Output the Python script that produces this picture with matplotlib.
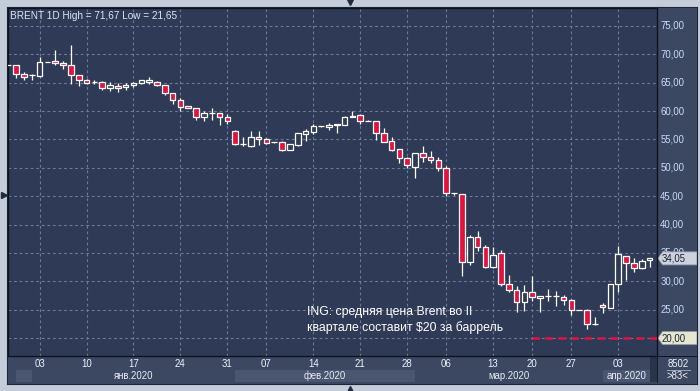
import matplotlib
matplotlib.use("Agg")
import matplotlib.pyplot as plt
from matplotlib.patches import Rectangle, Polygon
from matplotlib.lines import Line2D

plt.rcParams['font.family'] = ['Liberation Sans', 'DejaVu Sans']

# ---------------- data ----------------
opens = [68.1, 68.1, 66.5, 66.4, 66.1, 68.6, 68.8, 68.5, 68.1, 66.3,
         65.4, 65.1, 65.1, 64.1, 64.5, 64.2, 64.6, 64.9, 65.2, 65.1,
         64.6, 63.2, 61.9, 60.9, 60.5, 58.9, 59.6, 59.6, 58.9, 56.5,
         54.2, 53.9, 55.4, 55.05, 54.5, 54.5, 53.2, 54.05, 55.9, 56.4,
         57.3, 57.2, 57.5, 57.6, 59.0, 59.3, 58.3, 58.2, 56.1, 54.7,
         53.3, 51.7, 50.2, 52.6, 51.9, 51.4, 50.0, 45.5, 45.4, 33.4,
         37.8, 36.0, 32.5, 35.0, 29.5, 28.5, 26.4, 28.1, 27.05, 27.5,
         27.5, 27.2, 26.8, 24.95, 24.95, 22.5, 25.8, 25.35, 29.6, 34.5,
         33.2, 32.3, 33.7]
highs = [68.1, 68.1, 66.9, 66.5, 69.6, 68.6, 70.8, 68.9, 71.67, 66.3,
         65.6, 65.4, 65.3, 65.1, 64.9, 65.0, 65.2, 65.5, 66.0, 65.3,
         64.6, 63.2, 62.3, 60.9, 60.5, 60.0, 60.5, 59.6, 59.5, 56.7,
         55.5, 56.5, 56.5, 55.2, 54.6, 54.8, 54.2, 56.2, 56.9, 57.7,
         57.4, 57.9, 57.7, 59.2, 60.0, 59.5, 58.4, 58.2, 57.0, 55.4,
         53.3, 52.0, 52.6, 53.9, 53.0, 52.0, 50.4, 45.5, 45.4, 38.2,
         38.9, 36.4, 36.1, 35.6, 31.2, 29.2, 29.4, 30.9, 27.4, 28.6,
         28.3, 27.6, 26.9, 24.95, 25.2, 23.8, 26.2, 29.6, 36.3, 34.5,
         34.2, 33.9, 34.2]
lows = [68.1, 65.9, 65.5, 65.5, 66.0, 68.6, 68.2, 67.5, 64.8, 64.4,
        64.8, 64.8, 63.7, 63.6, 63.4, 63.7, 64.3, 64.8, 64.8, 64.4,
        62.9, 61.3, 60.1, 60.5, 58.5, 58.3, 58.5, 57.6, 57.8, 54.1,
        53.8, 53.6, 54.0, 54.2, 54.3, 53.0, 53.2, 53.9, 54.8, 56.0,
        57.2, 56.7, 56.2, 57.5, 58.9, 57.7, 58.2, 54.9, 54.5, 52.9,
        50.9, 49.9, 48.3, 51.1, 50.9, 49.5, 45.1, 45.3, 30.9, 32.9,
        35.3, 32.3, 32.3, 29.2, 28.2, 24.6, 24.7, 26.5, 24.6, 26.5,
        25.7, 25.9, 24.0, 24.95, 21.65, 22.4, 24.4, 25.3, 28.05, 30.2,
        31.6, 32.2, 32.6]
closes = [68.1, 66.5, 66.0, 66.4, 68.6, 68.6, 68.4, 68.1, 66.3, 65.4,
          65.0, 65.1, 64.1, 64.6, 64.1, 64.6, 65.0, 65.4, 65.4, 64.6,
          63.2, 61.9, 60.8, 60.5, 58.9, 59.6, 59.6, 58.9, 58.2, 54.2,
          54.2, 55.4, 55.0, 54.45, 54.5, 53.2, 54.2, 56.1, 56.5, 57.4,
          57.3, 57.6, 57.7, 58.9, 59.2, 58.2, 58.3, 56.1, 54.6, 53.2,
          51.7, 50.5, 52.6, 51.9, 51.3, 49.9, 45.55, 45.5, 33.4, 37.8,
          36.0, 32.5, 34.6, 29.5, 28.5, 26.4, 28.1, 27.2, 27.4, 27.5,
          27.5, 26.8, 24.9, 24.95, 22.5, 22.5, 25.5, 29.6, 34.8, 33.2,
          32.3, 33.6, 34.05]

date_tick_idx = [4, 10, 16, 22, 28, 33, 39, 45, 51, 56, 62, 67, 72, 78]
date_tick_labels = ['03', '10', '17', '24', '31', '07', '14', '21', '28',
                    '06', '13', '20', '27', '03']
month_edges = [1, 3, 29, 52, 76, 82]
month_labels = ['', 'янв.2020', 'фев.2020', 'мар.2020', 'апр.2020']
price_ticks = [20, 25, 30, 35, 40, 45, 50, 55, 60, 65, 70, 75]
last_price = 34.05
target_price = 20.0
target_start_idx = 67

title = 'BRENT 1D High = 71,67 Low = 21,65'
note = 'ING: средняя цена Brent во II\nквартале составит $20 за баррель'

# ---------------- style ----------------
W, H = 700, 391
BG = '#2f3b56'
PANEL = '#3c4862'
BAND = '#4a5670'
FRAME = '#c3ccd8'
GRID = '#6a7a97'
RED = '#e3123d'
WHITE = '#ffffff'


def fx(px):
    return px / W


def fy(py):
    return 1 - py / H


fig = plt.figure(figsize=(W / 100, H / 100), dpi=100, facecolor=FRAME)

# outer chart panel (background axes)
axo = fig.add_axes([fx(7), fy(384), (697 - 7) / W, (384 - 7) / H], zorder=-5)
axo.set_facecolor(PANEL)
axo.set_xticks([])
axo.set_yticks([])
for s in axo.spines.values():
    s.set_color('#1c2638')
    s.set_linewidth(0.8)

XL = (-0.05, 82.95)
YL = (16.85, 78.17)

ax = fig.add_axes([fx(8), fy(356), (657 - 8) / W, (356 - 8) / H], zorder=2)
ax.set_facecolor(BG)
ax.set_xlim(*XL)
ax.set_ylim(*YL)
for s in ax.spines.values():
    s.set_color('#0d1420')
    s.set_linewidth(1.0)
ax.set_xticks([])
ax.set_yticks([])

# grid
for p in price_ticks:
    ax.axhline(p, color=GRID, lw=0.8, ls=(0, (2.5, 2.5)), zorder=1)
for i in date_tick_idx:
    ax.axvline(i, color=GRID, lw=0.8, ls=(0, (2.5, 2.5)), zorder=1)

# candles
n = len(opens)
xs = list(range(n))
ax.vlines(xs, lows, highs, color=WHITE, lw=0.9, zorder=2)
bottoms = [min(o, c) for o, c in zip(opens, closes)]
heights = [abs(c - o) for o, c in zip(opens, closes)]
faces = [RED if c < o else BG for o, c in zip(opens, closes)]
ax.bar(xs, heights, bottom=bottoms, width=0.72, color=faces,
       edgecolor=WHITE, linewidth=0.9, zorder=3)

# target dashed line
ax.plot([target_start_idx, XL[1]], [target_price, target_price], color=RED,
        lw=1.8, ls=(0, (3, 2.2)), zorder=4)

# title and note
ax.text(0.003, 0.978, title, transform=ax.transAxes, color='#dbe6f4',
        fontsize=7.2, ha='left', va='center')
ax.text(38.2, 23.2, note, color=WHITE, fontsize=8.8, ha='left',
        va='center', linespacing=1.25, zorder=5)

# right axis panel
axr = fig.add_axes([fx(657), fy(356), (697 - 657) / W, (356 - 8) / H],
                   zorder=1)
axr.set_facecolor(PANEL)
axr.set_ylim(*YL)
axr.set_xlim(0, 1)
axr.set_xticks([])
axr.set_yticks([])
for s in axr.spines.values():
    s.set_visible(False)
axr.axvline(0, color='#0d1420', lw=1.2)
for p in price_ticks:
    if abs(p - target_price) < 1.6:
        continue
    axr.text(0.08, p, f'{p},00', color='#c7dbf5', fontsize=6.9,
             ha='left', va='center', zorder=2)


def price_box(axx, y, face, txt):
    h = 1.15
    poly = Polygon([(0.02, y), (0.14, y + h), (1.0, y + h), (1.0, y - h),
                    (0.14, y - h)], closed=True, facecolor=face,
                   edgecolor='#8e98a8', lw=0.6, zorder=5)
    axx.add_patch(poly)
    axx.text(0.12, y, txt, color='#1a2233', fontsize=6.9, ha='left',
             va='center', zorder=6)


price_box(axr, last_price, '#cdd3de', f'{last_price:.2f}'.replace('.', ','))
price_box(axr, target_price, '#e6e7cf', f'{target_price:.2f}'.replace('.', ','))
axr.plot([0, 0.04], [target_price, target_price], color=RED, lw=1.8,
         ls=(0, (3, 2.2)), zorder=4)

# bottom axis panel
axb = fig.add_axes([fx(8), fy(383), (657 - 8) / W, (383 - 356) / H],
                   zorder=1)
axb.set_facecolor(PANEL)
axb.set_xlim(*XL)
axb.set_ylim(0, 1)
axb.set_xticks([])
axb.set_yticks([])
for s in axb.spines.values():
    s.set_visible(False)
for k in range(len(month_edges) - 1):
    a, b = month_edges[k], month_edges[k + 1]
    if k % 2 == 0:
        axb.add_patch(Rectangle((a, 0.02), b - a, 0.47, facecolor=BAND,
                                edgecolor='none'))
    if month_labels[k]:
        axb.text((a + b) / 2, 0.27, month_labels[k], color='#e6edf7',
                 fontsize=6.9, ha='center', va='center')
axb.add_patch(Rectangle((month_edges[-1], 0.02), XL[1] - month_edges[-1], 0.98,
                        facecolor='#2a3449', edgecolor='none'))
for i, lab in zip(date_tick_idx, date_tick_labels):
    axb.text(i, 0.70, lab, color='#eef3fa', fontsize=6.9, ha='center',
             va='center')

# bottom-right corner
axc = fig.add_axes([fx(657), fy(383), (697 - 657) / W, (383 - 356) / H],
                   zorder=1)
axc.set_facecolor(PANEL)
axc.set_xlim(0, 1)
axc.set_ylim(0, 1)
axc.set_xticks([])
axc.set_yticks([])
for s in axc.spines.values():
    s.set_visible(False)
axc.axhline(1, color='#0d1420', lw=1.4)
axc.axvline(0, color='#0d1420', lw=1.2)
axc.text(0.52, 0.70, '8502', color='#eef3fa', fontsize=6.9, ha='center',
         va='center')
axc.plot([0.25, 0.82], [0.48, 0.48], color='#9aa6b8', lw=0.7)
axc.text(0.52, 0.26, '>83<', color='#eef3fa', fontsize=6.9, ha='center',
         va='center')

# small UI arrows
fig.add_artist(Line2D([fx(350)], [fy(2)], marker='v', color='#1f2a3e',
                      markersize=5, transform=fig.transFigure))
fig.add_artist(Line2D([fx(350)], [fy(389)], marker='^', color='#1f2a3e',
                      markersize=5, transform=fig.transFigure))
fig.add_artist(Line2D([fx(4)], [fy(195)], marker='>', color='#1f2a3e',
                      markersize=5, transform=fig.transFigure))

fig.savefig('out.png', dpi=100, facecolor=FRAME)
